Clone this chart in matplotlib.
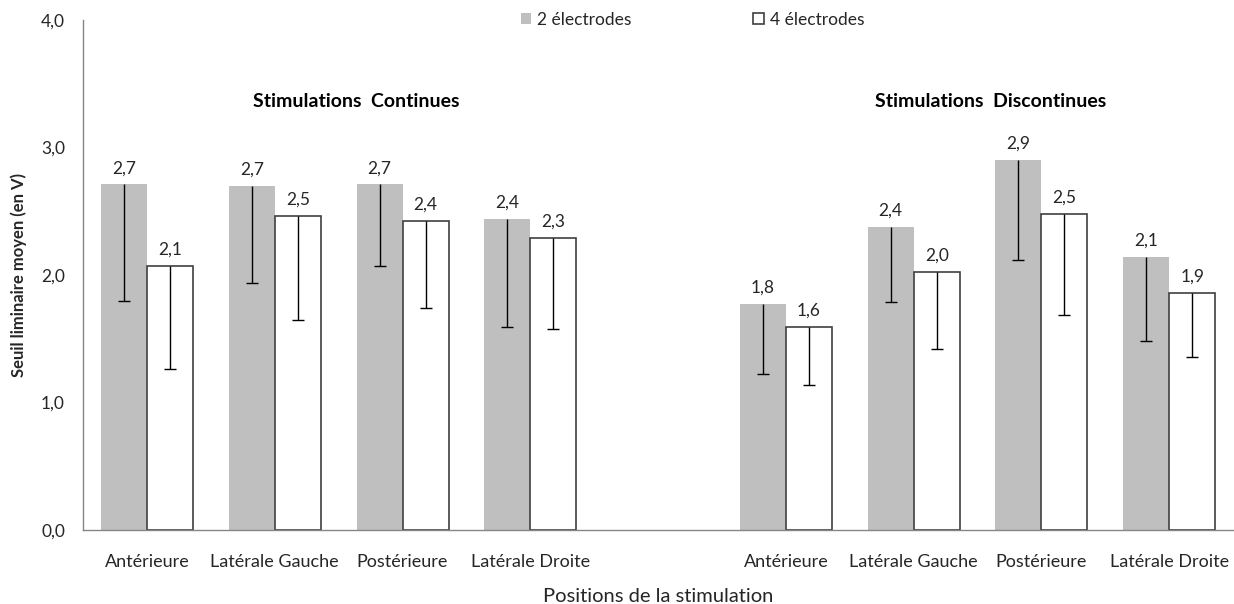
import numpy as np
import matplotlib.pyplot as plt

# slot 4 is left empty to separate the two stimulation modes
positions = ["Antérieure", "Latérale Gauche", "Postérieure", "Latérale Droite"]
slots = [0, 1, 2, 3, 5, 6, 7, 8]
tick_labels = positions + positions

mean_2el = [2.71, 2.70, 2.71, 2.44, 1.77, 2.38, 2.90, 2.14]
err_2el = [0.91, 0.76, 0.64, 0.85, 0.55, 0.59, 0.78, 0.66]
mean_4el = [2.07, 2.46, 2.42, 2.29, 1.59, 2.02, 2.48, 1.86]
err_4el = [0.81, 0.81, 0.68, 0.71, 0.45, 0.60, 0.79, 0.50]

group_titles = ["Stimulations  Continues", "Stimulations  Discontinues"]

plt.rcParams['font.family'] = ['Lato', 'DejaVu Sans']


def fmt(v):
    return f"{v:.1f}".replace(".", ",")


def draw_series(ax, x, means, errs, color, edge, label):
    ax.bar(x, means, width=0.36, color=color, edgecolor=edge,
           linewidth=1.2 if edge != "none" else 0, label=label, zorder=2)
    lows = np.array(means) - np.array(errs)
    ax.vlines(x, lows, means, color="black", linewidth=1, zorder=3)
    ax.plot(x, lows, ls="none", marker="_", ms=8, mew=1, color="black", zorder=3)
    for xi, m in zip(x, means):
        ax.annotate(fmt(m), (xi, m), xytext=(0, 6), textcoords="offset points",
                    ha="center", va="bottom", fontsize=12.5, color="#262626")


def main():
    fig = plt.figure(figsize=(12.34, 6.04), dpi=100)
    ax = fig.add_axes([0.0673, 0.1225, 0.9320, 0.8444])

    x = np.array(slots, dtype=float)
    draw_series(ax, x - 0.18, mean_2el, err_2el, "#bfbfbf", "none", "2 électrodes")
    draw_series(ax, x + 0.18, mean_4el, err_4el, "white", "#404040", "4 électrodes")

    ax.set_xlim(-0.5, 8.5)
    ax.set_ylim(0, 4)
    ax.set_yticks([0, 1, 2, 3, 4])
    ax.set_yticklabels([fmt(v) for v in [0, 1, 2, 3, 4]])
    ax.set_xticks(slots)
    ax.set_xticklabels(tick_labels)
    ax.tick_params(axis="x", length=0, pad=17, labelsize=13, labelcolor="#262626")
    ax.tick_params(axis="y", length=0, pad=13, labelsize=12.5, labelcolor="#262626")

    for side in ["top", "right"]:
        ax.spines[side].set_visible(False)
    for side in ["left", "bottom"]:
        ax.spines[side].set_color("#868686")
        ax.spines[side].set_linewidth(1)

    ax.set_ylabel("Seuil liminaire moyen (en V)", fontsize=12, fontweight="bold",
                  color="#262626", labelpad=10)
    ax.set_xlabel("Positions de la stimulation", fontsize=14.5, color="#262626", labelpad=13)

    ax.text(1.64, 3.36, group_titles[0], ha="center", va="center",
            fontsize=14, fontweight="bold", color="black")
    ax.text(6.6, 3.36, group_titles[1], ha="center", va="center",
            fontsize=14, fontweight="bold", color="black")

    ax.legend(loc="center", bbox_to_anchor=(0.53, 1.0), ncol=2, frameon=False,
              fontsize=12.5, handlelength=0.6, handleheight=0.6, handletextpad=0.35,
              columnspacing=7.0, labelcolor="#262626")

    fig.savefig("out.png", dpi=100)


if __name__ == "__main__":
    main()
